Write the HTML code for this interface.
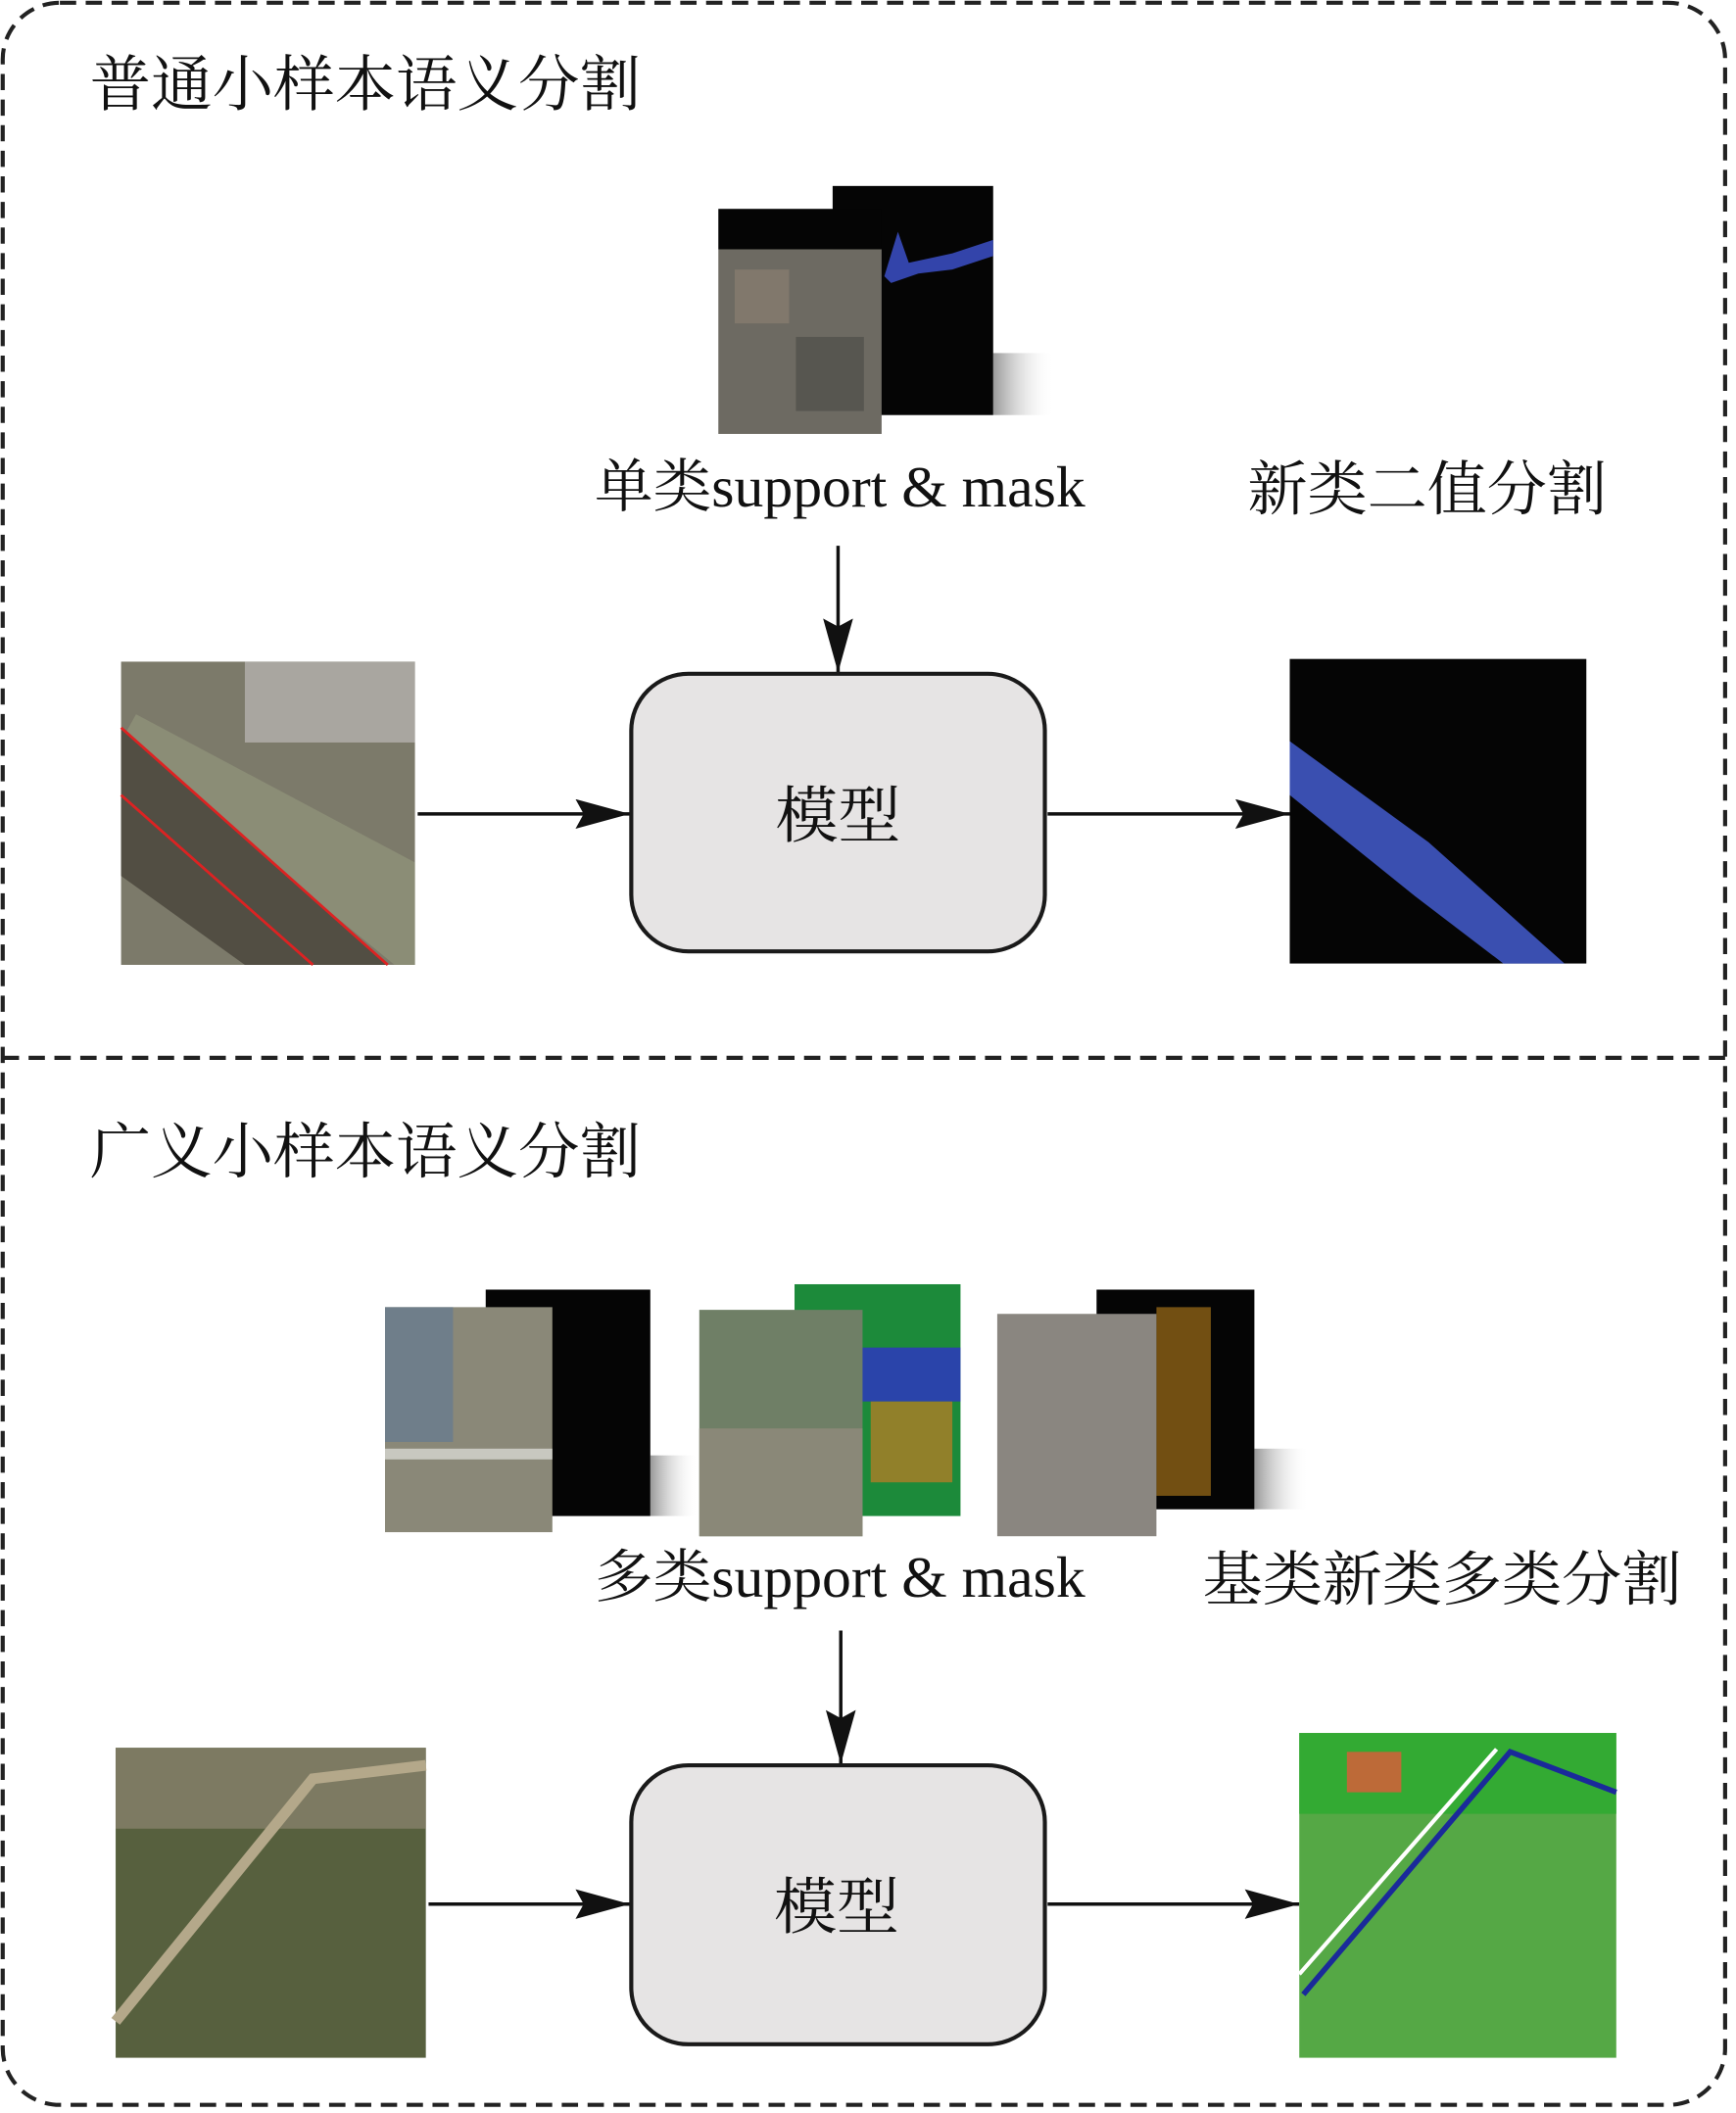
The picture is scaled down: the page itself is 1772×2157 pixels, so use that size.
<!DOCTYPE html>
<html><head><meta charset="utf-8"><style>html,body{margin:0;padding:0;background:#fff}svg{display:block}</style></head><body>
<svg width="1772" height="2157" viewBox="0 0 1276 1568" preserveAspectRatio="none" xmlns="http://www.w3.org/2000/svg">
<defs>
<marker id="b" markerWidth="40" markerHeight="22" refX="40" refY="11" orient="auto" markerUnits="userSpaceOnUse"><path d="M0,0 L40,11 L0,22 L6,11z" fill="#111"/></marker>
<linearGradient id="sh" x1="0" y1="0" x2="1" y2="0"><stop offset="0" stop-color="#999"/><stop offset="1" stop-color="#fff" stop-opacity="0"/></linearGradient>
</defs>
<rect x="2" y="2" width="1266" height="1560" rx="42" fill="none" stroke="#222" stroke-width="3" stroke-dasharray="12,7"/>
<line x1="2" y1="785" x2="1268" y2="785" stroke="#222" stroke-width="3" stroke-dasharray="12,7"/>
<!-- top support -->
<rect x="730" y="262" width="45" height="46" fill="url(#sh)"/>
<rect x="612" y="138" width="118" height="170" fill="#050505"/>
<path d="M650,205 L660,172 L668,195 L700,188 L730,178 L730,190 L700,200 L675,203 L655,210z" fill="#3344aa"/>
<rect x="528" y="155" width="120" height="30" fill="#050505"/>
<rect x="528" y="185" width="120" height="137" fill="#6d6a62"/>
<rect x="540" y="200" width="40" height="40" fill="#8a7f70" opacity=".7"/>
<rect x="585" y="250" width="50" height="55" fill="#4f4e48" opacity=".7"/>
<!-- top row -->
<rect x="89" y="491" width="216" height="225" fill="#7c7a6a"/>
<rect x="180" y="491" width="125" height="60" fill="#a9a6a0"/>
<path d="M89,550 L290,716 L305,716 L305,640 L100,530z" fill="#8b8d76"/>
<path d="M89,540 L285,716 L180,716 L89,650z" fill="#524e43"/>
<path d="M89,540 L285,716" stroke="#d22" stroke-width="2"/>
<path d="M89,590 L230,716" stroke="#d22" stroke-width="2"/>
<line x1="307" y1="604" x2="463" y2="604" stroke="#111" stroke-width="2.5" marker-end="url(#b)"/>
<line x1="770" y1="604" x2="948" y2="604" stroke="#111" stroke-width="2.5" marker-end="url(#b)"/>
<line x1="616" y1="405" x2="616" y2="499" stroke="#111" stroke-width="2.5" marker-end="url(#b)"/>
<rect x="464" y="500" width="304" height="206" rx="42" fill="#e6e4e4" stroke="#1a1a1a" stroke-width="3"/>
<rect x="948" y="489" width="218" height="226" fill="#050505"/>
<path d="M948,550 L1050,625 L1150,715 L1105,715 L1040,665 L948,590z" fill="#3a4fb0"/>
<!-- bottom support -->
<rect x="478" y="1080" width="35" height="45" fill="url(#sh)"/>
<rect x="357" y="957" width="121" height="168" fill="#050505"/>
<rect x="283" y="970" width="123" height="167" fill="#8a8878"/>
<rect x="283" y="970" width="50" height="100" fill="#6f7e8a"/>
<rect x="283" y="1075" width="123" height="8" fill="#c8c8c0"/>
<rect x="584" y="953" width="122" height="172" fill="#1c8a3a"/>
<rect x="584" y="1000" width="122" height="40" fill="#2a44aa"/>
<rect x="640" y="1040" width="60" height="60" fill="#e07a20" opacity=".6"/>
<rect x="514" y="972" width="120" height="168" fill="#6f7f66"/>
<rect x="514" y="1060" width="120" height="80" fill="#8a8878"/>
<rect x="922" y="1075" width="40" height="45" fill="url(#sh)"/>
<rect x="806" y="957" width="116" height="163" fill="#050505"/>
<rect x="850" y="970" width="40" height="140" fill="#e09a20" opacity=".5"/>
<rect x="733" y="975" width="117" height="165" fill="#8a8680"/>
<line x1="618" y1="1210" x2="618" y2="1309" stroke="#111" stroke-width="2.5" marker-end="url(#b)"/>
<rect x="85" y="1297" width="228" height="230" fill="#57603e"/>
<rect x="85" y="1297" width="228" height="60" fill="#7d7a62"/>
<path d="M85,1500 L230,1320 L313,1310" stroke="#b4a88a" stroke-width="8" fill="none"/>
<line x1="315" y1="1413" x2="463" y2="1413" stroke="#111" stroke-width="2.5" marker-end="url(#b)"/>
<line x1="770" y1="1413" x2="955" y2="1413" stroke="#111" stroke-width="2.5" marker-end="url(#b)"/>
<rect x="464" y="1310" width="304" height="207" rx="42" fill="#e6e4e4" stroke="#1a1a1a" stroke-width="3"/>
<rect x="955" y="1286" width="233" height="241" fill="#55a845"/>
<rect x="955" y="1286" width="233" height="60" fill="#33aa33"/>
<path d="M958,1480 L1110,1300 L1188,1330" stroke="#1a2a9a" stroke-width="4" fill="none"/>
<path d="M955,1465 L1100,1298" stroke="#fff" stroke-width="3" fill="none"/>
<rect x="990" y="1300" width="40" height="30" fill="#e05a3a" opacity=".8"/>
<g font-family="Liberation Serif, Noto Serif CJK SC, serif" fill="#111">
<text x="66" y="78" font-size="45">普通小样本语义分割</text>
<text x="66" y="870" font-size="45">广义小样本语义分割</text>
<text x="437" y="376" font-size="43">单类support &amp; mask</text>
<text x="917" y="378" font-size="44">新类二值分割</text>
<text x="437" y="1185" font-size="43">多类support &amp; mask</text>
<text x="884" y="1187" font-size="44">基类新类多类分割</text>
<text x="616" y="621" font-size="46" text-anchor="middle">模型</text>
<text x="615" y="1431" font-size="46" text-anchor="middle">模型</text>
</g>
</svg>
</body></html>
